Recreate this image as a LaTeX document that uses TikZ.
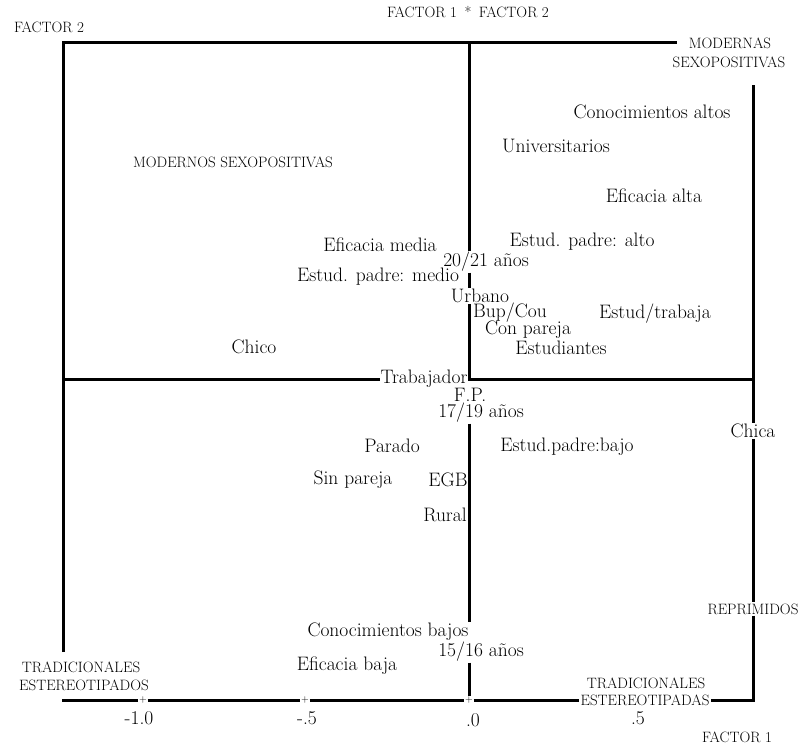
\documentclass[tikz,border=0pt]{standalone}
\usetikzlibrary{positioning}
\tikzset{
	lbl/.style={font=\fontsize{19.5}{21}\selectfont, inner sep=0.8pt},
	caplbl/.style={font=\fontsize{15}{17}\selectfont, inner sep=1pt},
	tick/.style={font=\fontsize{10}{10}\selectfont, inner sep=0.6pt},
	axis/.style={line width=3pt}
}
\begin{document}
\begin{tikzpicture}[x=1pt, y=-1pt]
	\useasboundingbox (0,0) rectangle (801,745);
	% ejes y titulos
	\node[caplbl] (title) at (468,12) {FACTOR 1\enspace *\enspace FACTOR 2};
	\node[caplbl] (fac2) at (49,27) {FACTOR 2};
	\node[caplbl] (fac1) at (737,737) {FACTOR 1};
	\node[caplbl] (modA) at (730,43) {MODERNAS};
	\node[caplbl] (modB) at (729,62) {SEXOPOSITIVAS};
	\node[caplbl] (modL) at (233,162) {MODERNOS SEXOPOSITIVAS};
	\node[caplbl] (tradA) at (81,667) {TRADICIONALES};
	\node[caplbl] (tradB) at (84,685) {ESTEREOTIPADOS};
	\node[caplbl] (tradC) at (646,683) {TRADICIONALES};
	\node[caplbl] (tradD) at (645,700) {ESTEREOTIPADAS};
	\node[caplbl] (repr) at (753,609) {REPRIMIDOS};
	% marcas
	\node[tick] (t1) at (143,700) {+};
	\node[tick] (t2) at (305,700) {+};
	\node[tick] (t0) at (469,700) {+};
	\node[lbl] (v1) at (139,718) {-1.0};
	\node[lbl] (v2) at (307,718) {-.5};
	\node[lbl] (v0) at (473,720) {.0};
	\node[lbl] (v5) at (638,718) {.5};
	% categorias
	\node[lbl] (conA) at (652,112) {Conocimientos altos};
	\node[lbl] (univ) at (556,146) {Universitarios};
	\node[lbl] (efA) at (654,196) {Eficacia alta};
	\node[lbl] (efM) at (380,245) {Eficacia media};
	\node[lbl] (epA) at (582,242) {Estud. padre: alto};
	\node[lbl] (e2021) at (486,262) {20/21 años};
	\node[lbl] (epM) at (378,277) {Estud. padre: medio};
	\node[lbl] (urb) at (480,296) {Urbano};
	\node[lbl] (bup) at (510,313) {Bup/Cou};
	\node[lbl] (etr) at (655,314) {Estud/trabaja};
	\node[lbl] (conP) at (528,330) {Con pareja};
	\node[lbl] (chico) at (254,347) {Chico};
	\node[lbl] (estu) at (561,348) {Estudiantes};
	\node[lbl] (trab) at (424,379) {Trabajador};
	\node[lbl] (fp) at (470,395) {F.P.};
	\node[lbl] (e1719) at (481,413) {17/19 años};
	\node[lbl] (chica) at (753,431) {Chica};
	\node[lbl] (par) at (392,446) {Parado};
	\node[lbl] (epB) at (567,447) {Estud.padre:bajo};
	\node[lbl] (sinP) at (353,480) {Sin pareja};
	\node[lbl] (egb) at (448,480) {EGB};
	\node[lbl] (rur) at (445,515) {Rural};
	\node[lbl] (conB) at (388,632) {Conocimientos bajos};
	\node[lbl] (e1516) at (481,652) {15/16 años};
	\node[lbl] (efB) at (347,666) {Eficacia baja};
	% lineas
	\coordinate (tl) at (63,42);
	\coordinate (te) at (677,42);
	\coordinate (ll) at (63,652);
	\coordinate (bl) at (62,700);
	\coordinate (tr) at (753,85);
	\coordinate (br) at (753,700);
	\coordinate (ml) at (63,379);
	\coordinate (mr) at (753,379);
	\coordinate (ct) at (469,42);
	\draw[axis] (ll) -- (tl) -- (te);
	\draw[axis] (ml) -- (trab.west);
	\draw[axis] (trab.east) -- (mr);
	\draw[axis] (tr) -- (chica.north);
	\draw[axis] (chica.south) -- (repr.north);
	\draw[axis] (repr.south) -- (br) -- (tradD.east);
	\draw[axis] (bl) -- (t1.west);
	\draw[axis] (t1.east) -- (t2.west);
	\draw[axis] (t2.east) -- (t0.west);
	\draw[axis] (t0.east) -- (tradD.west);
	\draw[axis] (ct) -- (ct |- e2021.north);
	\draw[axis] (ct |- e2021.south) -- (ct |- urb.north);
	\draw[axis] (ct |- urb.south) -- (ct |- mr);
	\draw[axis] (ct |- e1719.south) -- (ct |- conB.north);
	\draw[axis] (ct |- e1516.south) -- (t0.north);
\end{tikzpicture}
\end{document}
